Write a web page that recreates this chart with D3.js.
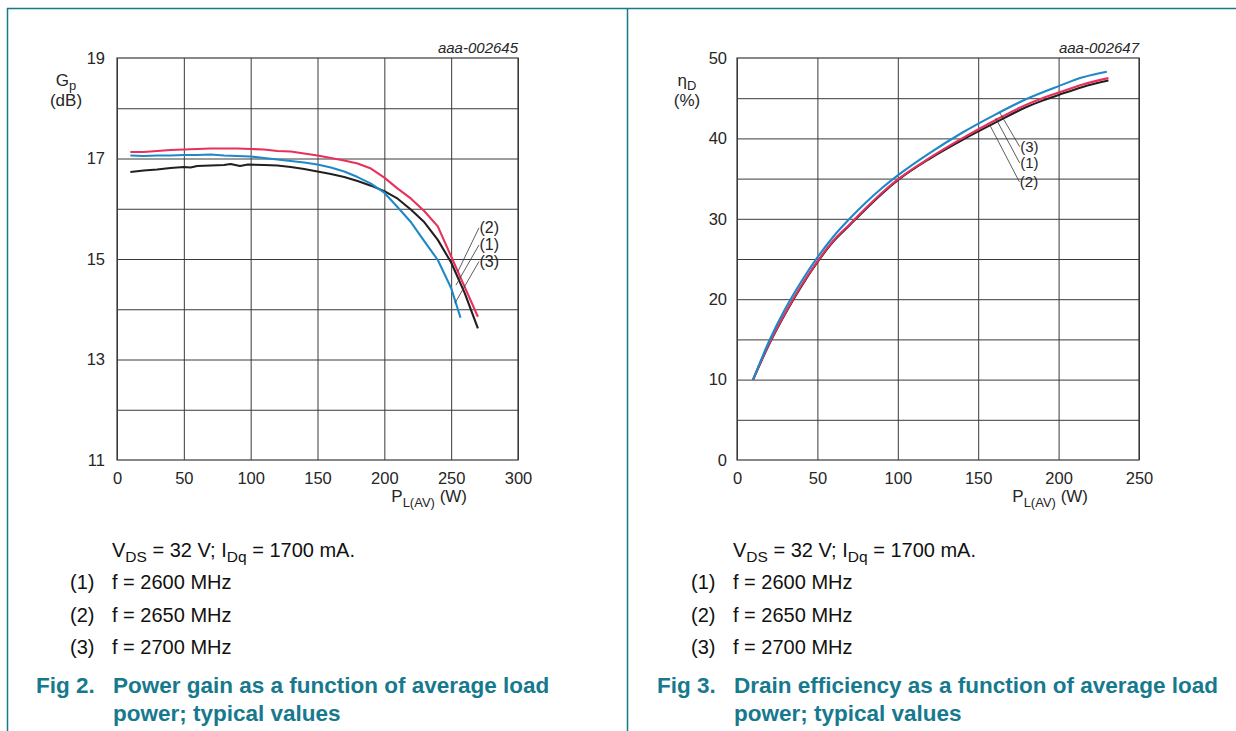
<!DOCTYPE html>
<html>
<head>
<meta charset="utf-8">
<script src="https://cdn.jsdelivr.net/npm/d3@7/dist/d3.min.js"></script>
<style>
  body { margin: 0; background: #fff; }
  svg text { font-family: "Liberation Sans", Arial, Helvetica, sans-serif; }
</style>
</head>
<body>
<svg id="chart" width="1236" height="731"></svg>
<script>
// ---------- Fig 2: power gain vs average load power ----------
const gainPower2600 = [10, 20, 30, 40, 50, 55, 60, 70, 80, 85, 92, 98, 110, 120, 130, 140, 150, 160, 170, 180, 190, 200, 210, 220, 230, 240, 250, 260, 270];
const gain2600 = [16.73, 16.76, 16.78, 16.81, 16.83, 16.82, 16.85, 16.86, 16.87, 16.89, 16.85, 16.88, 16.87, 16.86, 16.83, 16.79, 16.74, 16.69, 16.63, 16.55, 16.46, 16.35, 16.2, 15.98, 15.73, 15.38, 14.93, 14.33, 13.62];

const gainPower2650 = [10, 20, 30, 40, 50, 60, 70, 80, 90, 100, 110, 120, 130, 140, 150, 160, 170, 180, 190, 200, 210, 220, 230, 240, 250, 260, 270];
const gain2650 = [17.13, 17.13, 17.15, 17.17, 17.18, 17.19, 17.2, 17.2, 17.2, 17.19, 17.18, 17.15, 17.14, 17.1, 17.06, 17.01, 16.96, 16.9, 16.8, 16.62, 16.4, 16.2, 15.95, 15.65, 15.05, 14.45, 13.85];

const gainPower2700 = [10, 20, 30, 40, 50, 60, 70, 80, 90, 100, 110, 120, 130, 140, 150, 160, 170, 180, 190, 200, 210, 220, 230, 240, 250, 257];
const gain2700 = [17.06, 17.05, 17.06, 17.06, 17.07, 17.07, 17.08, 17.06, 17.05, 17.04, 17.01, 16.98, 16.95, 16.92, 16.88, 16.82, 16.74, 16.63, 16.5, 16.32, 16.03, 15.73, 15.35, 14.98, 14.42, 13.83];

const gainXTicks = [0, 50, 100, 150, 200, 250, 300];
const gainYTicks = [11, 13, 15, 17, 19];
const gainYGrid = [12, 13, 14, 15, 16, 17, 18];

// ---------- Fig 3: drain efficiency vs average load power ----------
const effPower2600 = [10, 20, 30, 40, 50, 60, 70, 80, 90, 100, 120, 140, 160, 180, 190, 200, 215, 231];
const eff2600 = [10, 14.4, 18.2, 21.6, 24.6, 27.2, 29.2, 31.2, 33.1, 34.8, 37.5, 39.8, 41.9, 43.9, 44.7, 45.4, 46.4, 47.2];

const effPower2650 = [10, 20, 30, 40, 50, 60, 70, 80, 90, 100, 120, 140, 160, 180, 190, 200, 215, 231];
const eff2650 = [10, 14.5, 18.3, 21.7, 24.7, 27.3, 29.3, 31.3, 33.2, 34.9, 37.6, 40.0, 42.2, 44.2, 45.0, 45.7, 46.7, 47.5];

const effPower2700 = [10, 20, 30, 40, 50, 60, 70, 80, 90, 100, 120, 140, 160, 180, 200, 215, 230];
const eff2700 = [10, 14.8, 18.8, 22.2, 25.2, 27.8, 30.0, 32.0, 33.8, 35.4, 38.2, 40.7, 42.9, 44.9, 46.5, 47.6, 48.3];

const effXTicks = [0, 50, 100, 150, 200, 250];
const effYTicks = [0, 10, 20, 30, 40, 50];
const effYGrid = [5, 10, 15, 20, 25, 30, 35, 40, 45];

// curve labels: [label, point on curve (W, value), label anchor (W, value)]
const gainLabels = [
  ["(2)", 255, 14.75, 270.8, 15.62],
  ["(1)", 253.6, 14.48, 270.8, 15.28],
  ["(3)", 252.8, 14.12, 270.8, 14.95]
];
const effLabels = [
  ["(3)", 163.4, 43.2, 175.8, 38.97],
  ["(1)", 160.9, 42.5, 175.8, 36.94],
  ["(2)", 157.2, 41.67, 175.6, 34.6]
];

const footConditions = ["(1)", "(2)", "(3)"];
const footFreqs = ["f = 2600 MHz", "f = 2650 MHz", "f = 2700 MHz"];

const COL_RED = "#e8305c";
const COL_BLUE = "#1f88c9";
const COL_BLACK = "#231f20";
const TEAL = "#17798d";
const GRID = "#3a3a3a";
const TXT = "#262626";

const svg = d3.select("#chart");

// page frame
svg.append("line").attr("x1", 7).attr("x2", 1236).attr("y1", 8.5).attr("y2", 8.5)
  .attr("stroke", TEAL).attr("stroke-width", 1.5);
svg.append("line").attr("x1", 7.5).attr("x2", 7.5).attr("y1", 8).attr("y2", 731)
  .attr("stroke", TEAL).attr("stroke-width", 1.5);
svg.append("line").attr("x1", 627.5).attr("x2", 627.5).attr("y1", 8).attr("y2", 731)
  .attr("stroke", TEAL).attr("stroke-width", 1.5);

function toPoints(xs, ys) { return xs.map((x, i) => [x, ys[i]]); }

function drawPanel(o) {
  const g = svg.append("g");
  const x = d3.scaleLinear().domain(o.xDomain).range(o.xRange);
  const y = d3.scaleLinear().domain(o.yDomain).range([460, 58]);
  const w = o.xRange[1] - o.xRange[0];
  const h = 460 - 58;

  // horizontal grid
  g.append("g").attr("transform", `translate(${o.xRange[0]},0)`)
    .call(d3.axisLeft(y).tickValues(o.yGrid).tickSize(-w).tickFormat(""))
    .call(s => s.select(".domain").remove())
    .call(s => s.selectAll("line").attr("stroke", GRID).attr("stroke-width", 1));

  // vertical grid + x tick labels
  g.append("g").attr("transform", "translate(0,460)")
    .call(d3.axisBottom(x).tickValues(o.xTicks).tickSize(-h).tickPadding(12).tickFormat(d3.format("d")))
    .call(s => s.select(".domain").remove())
    .call(s => s.selectAll("line").attr("stroke", GRID).attr("stroke-width", 1))
    .call(s => s.selectAll("text").attr("fill", TXT).style("font-size", "16.5px")
      .style("font-family", '"Liberation Sans", Arial, sans-serif'));

  // y tick labels
  g.append("g").attr("transform", `translate(${o.xRange[0]},0)`)
    .call(d3.axisLeft(y).tickValues(o.yTicks).tickSize(0).tickPadding(o.yPad).tickFormat(d3.format("d")))
    .call(s => s.select(".domain").remove())
    .call(s => s.selectAll("text").attr("fill", TXT).style("font-size", "16.5px")
      .style("font-family", '"Liberation Sans", Arial, sans-serif'));

  // plot frame
  g.append("rect").attr("x", o.xRange[0]).attr("y", 58).attr("width", w).attr("height", h)
    .attr("fill", "none").attr("stroke", GRID).attr("stroke-width", 1.2);

  // curves
  const line = d3.line().x(d => x(d[0])).y(d => y(d[1])).curve(o.curve);
  o.series.forEach(s => {
    g.append("path").datum(toPoints(s.xs, s.ys))
      .attr("d", line).attr("fill", "none").attr("stroke", s.color)
      .attr("stroke-width", 2.1).attr("stroke-linejoin", "round").attr("stroke-linecap", "butt");
  });

  // leader lines and curve labels
  o.labels.forEach(l => {
    g.append("line").attr("x1", x(l[1])).attr("y1", y(l[2])).attr("x2", x(l[3])).attr("y2", y(l[4]))
      .attr("stroke", "#333").attr("stroke-width", 0.8);
    g.append("text").attr("x", x(l[3]) + 0.5).attr("y", y(l[4]) + 5)
      .attr("fill", TXT).style("font-size", o.labelSize).text(l[0]);
  });

  // drawing number
  g.append("text").attr("x", o.xRange[1]).attr("y", 53).attr("text-anchor", "end")
    .attr("fill", TXT).style("font-size", "15px").style("font-style", "italic").text(o.code);

  // y-axis quantity
  const q = g.append("text").attr("x", o.qx).attr("y", 86).attr("text-anchor", "middle")
    .attr("fill", TXT).style("font-size", "17px");
  q.append("tspan").text(o.qMain);
  q.append("tspan").attr("dy", 4).style("font-size", "13px").text(o.qSub);
  g.append("text").attr("x", o.qx).attr("y", 106).attr("text-anchor", "middle")
    .attr("fill", TXT).style("font-size", "17px").text(o.qUnit);

  // x-axis quantity
  const t = g.append("text").attr("x", o.xRange[1] - 51).attr("y", 502).attr("text-anchor", "end")
    .attr("fill", TXT).style("font-size", "17px");
  t.append("tspan").text("P");
  t.append("tspan").attr("dy", 5).style("font-size", "13px").text("L(AV)");
  t.append("tspan").attr("dy", -5).text(" (W)");

  // conditions and legend
  const fx = o.footX;
  const c = g.append("text").attr("x", fx).attr("y", 557).attr("fill", "#111").style("font-size", "20px");
  c.append("tspan").text("V");
  c.append("tspan").attr("dy", 5).style("font-size", "15.5px").text("DS");
  c.append("tspan").attr("dy", -5).text(" = 32 V; I");
  c.append("tspan").attr("dy", 5).style("font-size", "15.5px").text("Dq");
  c.append("tspan").attr("dy", -5).text(" = 1700 mA.");
  footConditions.forEach((k, i) => {
    g.append("text").attr("x", fx - 42).attr("y", 589 + i * 32.5).attr("fill", "#111")
      .style("font-size", "20px").text(k);
    g.append("text").attr("x", fx).attr("y", 589 + i * 32.5).attr("fill", "#111")
      .style("font-size", "20px").text(footFreqs[i]);
  });

  // caption
  g.append("text").attr("x", fx - 76).attr("y", 693).attr("fill", TEAL)
    .style("font-size", "22.5px").style("font-weight", "bold").text(o.fig);
  o.caption.forEach((line, i) => {
    g.append("text").attr("x", fx + 1).attr("y", 693 + i * 28).attr("fill", TEAL)
      .style("font-size", "22.5px").style("font-weight", "bold").text(line);
  });
}

drawPanel({
  xDomain: [0, 300], xRange: [117, 518], yDomain: [11, 19],
  xTicks: gainXTicks, yTicks: gainYTicks, yGrid: gainYGrid, yPad: 12,
  curve: d3.curveLinear,
  series: [
    { xs: gainPower2600, ys: gain2600, color: COL_BLACK },
    { xs: gainPower2700, ys: gain2700, color: COL_BLUE },
    { xs: gainPower2650, ys: gain2650, color: COL_RED }
  ],
  labels: gainLabels, labelSize: "16px",
  code: "aaa-002645",
  qx: 66, qMain: "G", qSub: "p", qUnit: "(dB)",
  footX: 112, fig: "Fig 2.",
  caption: ["Power gain as a function of average load", "power; typical values"]
});

drawPanel({
  xDomain: [0, 250], xRange: [737, 1139], yDomain: [0, 50],
  xTicks: effXTicks, yTicks: effYTicks, yGrid: effYGrid, yPad: 10,
  curve: d3.curveMonotoneX,
  series: [
    { xs: effPower2600, ys: eff2600, color: COL_BLACK },
    { xs: effPower2650, ys: eff2650, color: COL_RED },
    { xs: effPower2700, ys: eff2700, color: COL_BLUE }
  ],
  labels: effLabels, labelSize: "15px",
  code: "aaa-002647",
  qx: 687, qMain: "η", qSub: "D", qUnit: "(%)",
  footX: 733, fig: "Fig 3.",
  caption: ["Drain efficiency as a function of average load", "power; typical values"]
});
</script>
</body>
</html>
